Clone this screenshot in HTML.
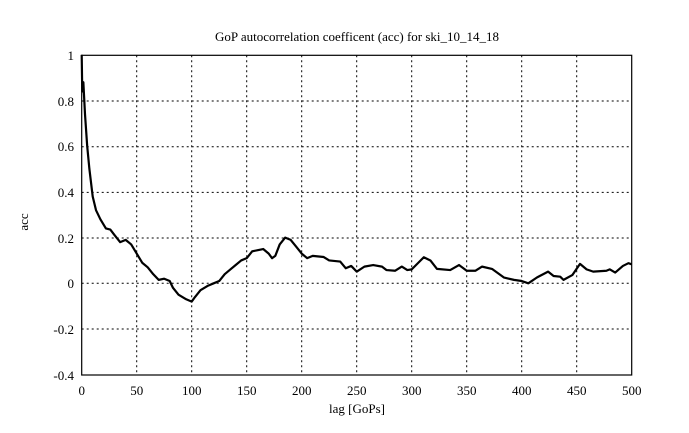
<!DOCTYPE html>
<html><head><meta charset="utf-8"><style>
html,body{margin:0;padding:0;background:#fff;}
svg{display:block;font-family:"Liberation Serif",serif;}
</style></head><body>
<svg width="689" height="433" viewBox="0 0 689 433" xmlns="http://www.w3.org/2000/svg">
<rect width="689" height="433" fill="#fff"/>
<g stroke="#000" stroke-width="1" stroke-dasharray="2,3" fill="none">
<line x1="136.7" y1="55.3" x2="136.7" y2="375"/>
<line x1="191.7" y1="55.3" x2="191.7" y2="375"/>
<line x1="246.7" y1="55.3" x2="246.7" y2="375"/>
<line x1="301.7" y1="55.3" x2="301.7" y2="375"/>
<line x1="356.7" y1="55.3" x2="356.7" y2="375"/>
<line x1="411.7" y1="55.3" x2="411.7" y2="375"/>
<line x1="466.7" y1="55.3" x2="466.7" y2="375"/>
<line x1="521.7" y1="55.3" x2="521.7" y2="375"/>
<line x1="576.7" y1="55.3" x2="576.7" y2="375"/>
<line x1="81.7" y1="101" x2="631.7" y2="101"/>
<line x1="81.7" y1="146.7" x2="631.7" y2="146.7"/>
<line x1="81.7" y1="192.4" x2="631.7" y2="192.4"/>
<line x1="81.7" y1="238" x2="631.7" y2="238"/>
<line x1="81.7" y1="283.3" x2="631.7" y2="283.3"/>
<line x1="81.7" y1="329" x2="631.7" y2="329"/>
</g>
<rect x="81.7" y="55.3" width="550" height="319.7" fill="none" stroke="#000" stroke-width="1.2"/>
<g transform="translate(81.7,283.3) scale(1.1,-228.5)">
<polyline fill="none" stroke="#000" stroke-width="2.2" vector-effect="non-scaling-stroke" stroke-linejoin="round" points="0,1 0.5,0.84 1.5,0.88 3,0.74 5,0.6 7,0.5 10,0.38 13,0.32 17,0.28 22,0.24 26,0.235 30,0.21 35,0.18 40,0.19 45,0.17 50,0.13 55,0.09 60,0.07 65,0.04 70,0.015 75,0.02 80,0.01 83,-0.02 88,-0.05 95,-0.07 100,-0.08 103,-0.06 108,-0.03 115,-0.01 120,0 125,0.01 130,0.04 135,0.06 140,0.08 145,0.1 150,0.11 155,0.14 160,0.145 165,0.15 170,0.13 173,0.11 176,0.12 180,0.17 185,0.2 190,0.19 195,0.16 200,0.13 205,0.11 210,0.12 220,0.115 225,0.1 235,0.095 240,0.066 245,0.076 250,0.051 257,0.073 265,0.08 273,0.073 277,0.058 285,0.055 291,0.073 296,0.058 300,0.061 311,0.114 317,0.1 323,0.063 335,0.058 343,0.08 350,0.055 358,0.055 364,0.073 373,0.063 384,0.025 393,0.015 400,0.01 406,0 414,0.026 424,0.051 429,0.032 435,0.029 438,0.015 446,0.036 453,0.085 459,0.061 465,0.051 477,0.055 480,0.061 485,0.047 492,0.076 497,0.088 500,0.083"/>
</g>
<g font-size="13" fill="#000">
<text x="357" y="41" text-anchor="middle">GoP autocorrelation coefficent (acc) for ski_10_14_18</text>
<g text-anchor="end">
<text x="74" y="60">1</text>
<text x="74" y="106">0.8</text>
<text x="74" y="151">0.6</text>
<text x="74" y="197">0.4</text>
<text x="74" y="243">0.2</text>
<text x="74" y="288">0</text>
<text x="74" y="334">-0.2</text>
<text x="74" y="380">-0.4</text>
</g>
<g text-anchor="middle">
<text x="81.7" y="395">0</text>
<text x="136.7" y="395">50</text>
<text x="191.7" y="395">100</text>
<text x="246.7" y="395">150</text>
<text x="301.7" y="395">200</text>
<text x="356.7" y="395">250</text>
<text x="411.7" y="395">300</text>
<text x="466.7" y="395">350</text>
<text x="521.7" y="395">400</text>
<text x="576.7" y="395">450</text>
<text x="631.7" y="395">500</text>
<text x="357" y="413">lag [GoPs]</text>
</g>
<text x="28" y="222" text-anchor="middle" transform="rotate(-90 28 222)">acc</text>
</g>
</svg>
</body></html>
